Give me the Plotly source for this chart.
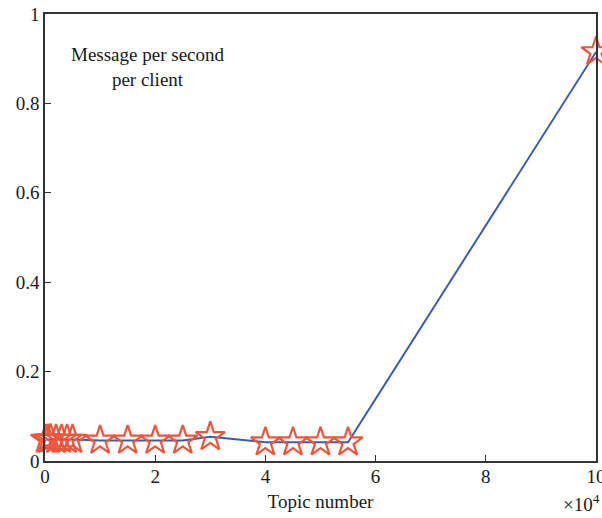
import plotly.graph_objects as go

topics = [100, 500, 1000, 2000, 3000, 4000, 5000, 10000, 15000, 20000, 25000, 30000,
          40000, 45000, 50000, 55000, 100000]
rate = [0.048, 0.048, 0.049, 0.048, 0.048, 0.048, 0.048, 0.046, 0.046, 0.046, 0.046, 0.054,
        0.042, 0.042, 0.042, 0.042, 0.915]
x_tickvals = [0, 20000, 40000, 60000, 80000, 100000]
x_ticktext = ["0", "2", "4", "6", "8", "10"]
y_tickvals = [0, 0.2, 0.4, 0.6, 0.8, 1]

font = "Liberation Serif, Times New Roman, serif"

fig = go.Figure()
fig.add_trace(go.Scatter(x=topics, y=rate, mode="lines",
                         line=dict(color="#3b5cae", width=2), showlegend=False))
fig.add_trace(go.Scatter(x=topics, y=rate, mode="markers",
                         marker=dict(symbol="star-open", size=22,
                                     line=dict(color="#e8151c", width=2.2)),
                         showlegend=False, cliponaxis=False))

fig.update_layout(
    width=602, height=518,
    margin=dict(l=45, r=6, t=14, b=57),
    paper_bgcolor="white", plot_bgcolor="white",
    font=dict(family=font, size=19, color="#1a1a1a"),
    xaxis=dict(range=[0, 100000], tickvals=x_tickvals, ticktext=x_ticktext,
               tickfont=dict(size=19), automargin=False, ticklabelstandoff=-3,
               ticklabeloverflow="allow",
               ticks="inside", ticklen=6, tickcolor="#333", showgrid=False,
               zeroline=False, showline=True, linecolor="#333", linewidth=1.5,
               mirror=True,
               title=dict(text="Topic number", font=dict(size=19), standoff=9)),
    yaxis=dict(range=[0, 1], tickvals=y_tickvals, tickfont=dict(size=19),
               automargin=False, ticklabeloverflow="allow",
               ticks="inside", ticklen=6, tickcolor="#333", showgrid=False,
               zeroline=False, showline=True, linecolor="#333", linewidth=1.5,
               mirror=True),
    annotations=[
        dict(text="Message per second<br>per client", x=0.187, y=0.881,
             xref="paper", yref="paper", showarrow=False, xanchor="center",
             yanchor="middle", font=dict(size=19), align="center"),
        dict(text="×10<sup>4</sup>", x=1.01, y=-0.094, xref="paper", yref="paper",
             showarrow=False, xanchor="right", yanchor="middle", font=dict(size=19)),
    ],
)

fig.write_html("out.html", config={"displayModeBar": False},
               post_script="document.body.style.margin='0';document.body.style.overflow='hidden';")
